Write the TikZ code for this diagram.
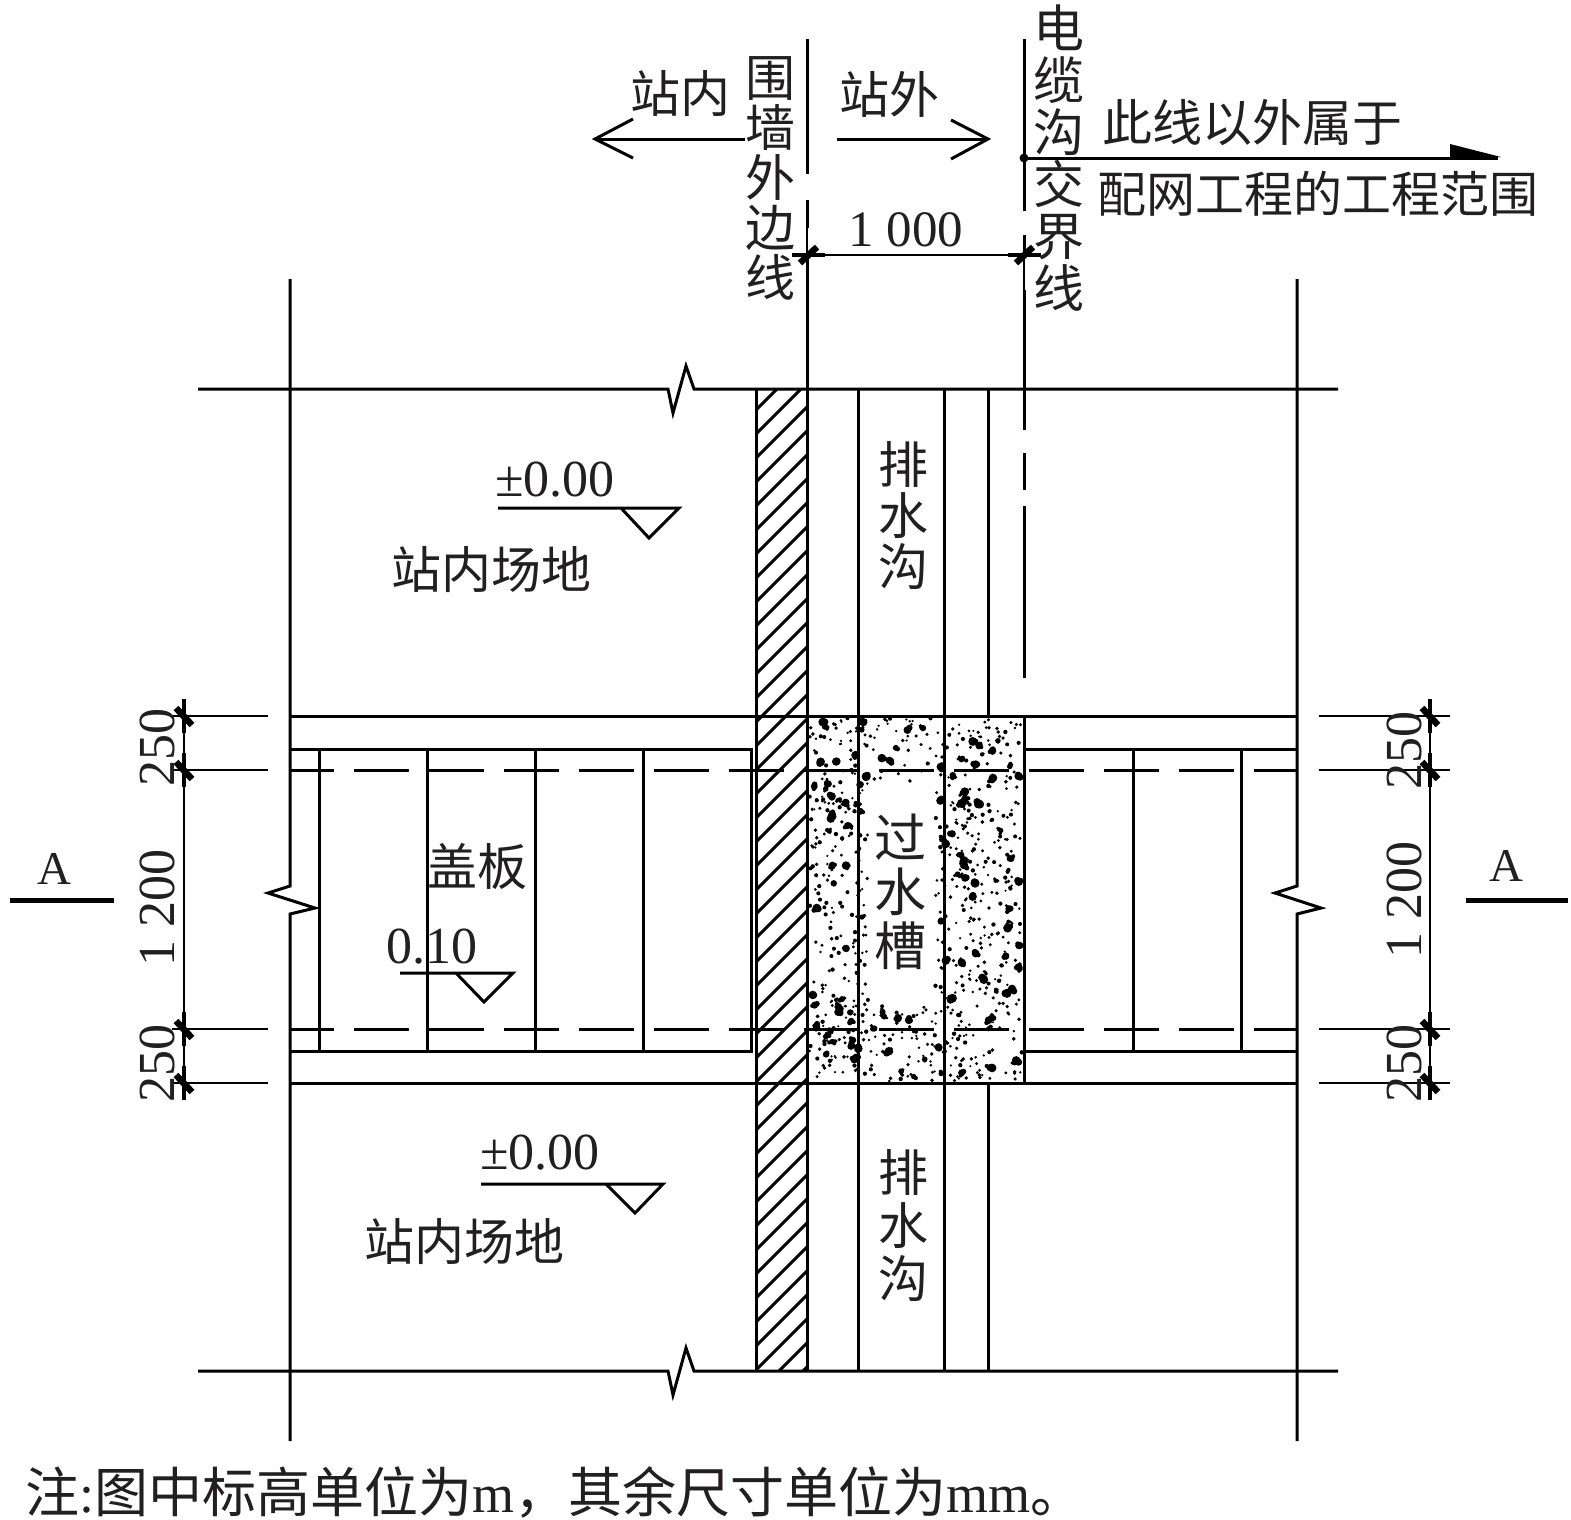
\documentclass[tikz,border=0pt]{standalone}
\usepackage{fontspec}
\setmainfont{Liberation Serif}
\newfontfamily\cjk{Noto Sans CJK SC}
\definecolor{ink}{HTML}{231F20}
\newcommand{\fs}[2]{\fontsize{#1}{#2}\selectfont}
\tikzset{
  heavy/.style={line width=3pt,black},
  thin line/.style={line width=1.4pt,black},
  dimtick/.style={line width=6.5pt,black},
  dimbar/.style={line width=3.2pt,black},
  lbl/.style={inner sep=0pt,text=ink,font=\fs{52}{52}},
  cjklbl/.style={inner sep=0pt,text=ink,font=\cjk\fs{50}{50}},
  vlbl/.style={inner sep=0pt,text=ink,align=center,font=\cjk\fs{50}{50}},
  dashrow/.style={heavy,dash pattern=on 55pt off 20pt,dash phase=11pt},
}
\begin{document}
\begin{tikzpicture}[x=1pt,y=-1pt,line cap=butt,line join=miter]
\useasboundingbox (0,0) rectangle (1571,1519);
\fill[white] (0,0) rectangle (1571,1519);
% hatching
\begin{scope}
\clip (756,389) rectangle (807,1371);
\foreach \k in {0,...,43}{
  \draw[line width=3pt] (756,386+24*\k) -- (807,335+24*\k);
}
\end{scope}
% stipple
\pgfmathsetseed{4711}
\foreach \i in {1,...,900}{
  \pgfmathsetmacro\dx{809+rnd*213}
  \pgfmathsetmacro\dy{718+rnd*363}
  \pgfmathsetmacro\skipit{(\dx>868 && \dx<935 && \dy>782 && \dy<1005)?1:0}
  \pgfmathsetmacro\rr{1.2+rnd*1.0}
  \ifdim\skipit pt<0.5pt
    \fill (\dx,\dy) circle[radius=\rr];
  \fi
}
\foreach \i in {1,...,135}{
  \pgfmathsetmacro\dx{811+rnd*209}
  \pgfmathsetmacro\dy{722+rnd*356}
  \pgfmathsetmacro\skipit{(\dx>862 && \dx<938 && \dy>782 && \dy<1005)?1:0}
  \pgfmathsetmacro\rr{2.6+rnd*2.0}
  \pgfmathsetmacro\ox{\dx+2.5-rnd*5}
  \pgfmathsetmacro\oy{\dy+2.5-rnd*5}
  \pgfmathsetmacro\ux{\dx+3-rnd*6}
  \pgfmathsetmacro\uy{\dy+3-rnd*6}
  \ifdim\skipit pt<0.5pt
    \fill (\dx,\dy) circle[radius=\rr];
    \fill (\ox,\oy) circle[radius=\rr*0.8];
    \fill (\ux,\uy) circle[radius=\rr*0.6];
  \fi
}
% frame verticals with breaks
\draw[heavy] (290,279) -- (290,886) -- (268,893) -- (315,908) -- (290,914) -- (290,1441);
\draw[heavy] (1297,279) -- (1297,886) -- (1275,893) -- (1321,908) -- (1297,914) -- (1297,1441);
% top/bottom horizontals with breaks
\draw[heavy] (198,389) -- (668,389) -- (673,413) -- (686,366) -- (694,389) -- (1338,389);
\draw[heavy] (198,1371) -- (668,1371) -- (673,1395) -- (686,1348) -- (694,1371) -- (1338,1371);
% wall and ditch
\draw[heavy] (756,389) -- (756,1371);
\draw[heavy] (807,39) -- (807,174) (807,200) -- (807,228);
\draw[thin line] (807,228) -- (807,255);
\draw[heavy] (807,255) -- (807,1371);
\draw[heavy] (858,389) -- (858,1371);
\draw[heavy] (944,389) -- (944,1371);
\draw[heavy] (988,389) -- (988,716) (988,1083) -- (988,1371);
\draw[heavy] (1024,39) -- (1024,211) (1024,235) -- (1024,255);
\draw[thin line] (1024,255) -- (1024,290);
\draw[heavy] (1024,290) -- (1024,430) (1024,453) -- (1024,490) (1024,506) -- (1024,678);
\draw[heavy] (1024,716) -- (1024,1083);
% slab horizontals
\draw[heavy] (290,716) -- (1297,716);
\draw[heavy] (290,1083) -- (1297,1083);
\draw[heavy] (290,749) -- (751,749) -- (751,1051) -- (290,1051);
\draw[heavy] (1024,749) -- (1297,749) (1024,1051) -- (1297,1051);
\foreach \x in {319,427,535,643,1133,1241}{
  \draw[heavy] (\x,749) -- (\x,1051);
}
\draw[dashrow] (290,770) -- (1297,770);
\draw[dashrow] (290,1029) -- (1297,1029);
% top dimension
\draw[thin line] (825,255) -- (1008,255);
\draw[dimbar] (792,255) -- (825,255) (1008,255) -- (1041,255);
\draw[dimtick] (800,263) -- (817,247);
\draw[dimtick] (1016,263) -- (1033,247);
% side dimensions
\draw[thin line] (184,716) -- (184,1083);
\foreach \y in {716,770,1029,1083}{
  \draw[thin line] (172,\y) -- (268,\y);
  \draw[dimbar] (184,\y-17) -- (184,\y+17);
  \draw[dimtick] (176,\y-8) -- (192,\y+9);
  \draw[thin line] (1319,\y) -- (1450,\y);
  \draw[dimbar] (1430,\y-17) -- (1430,\y+17);
  \draw[dimtick] (1422,\y-8) -- (1438,\y+9);
}
\draw[thin line] (1430,716) -- (1430,1083);
% level marks
\draw[heavy] (498,508) -- (679,508) -- (649,538) -- (621,508);
\draw[heavy] (481,1184) -- (663,1184) -- (635,1213) -- (606,1184);
\draw[heavy] (400,973) -- (513,973) -- (484,1002) -- (456,973);
% section marks
\draw[line width=5pt] (10,900) -- (114,900);
\draw[line width=5pt] (1466,900) -- (1568,900);
% station arrows
\draw[heavy] (745,139) -- (595,139);
\draw[heavy] (633,119) -- (595,139) -- (633,158);
\draw[heavy] (837,139) -- (988,139);
\draw[heavy] (951,120) -- (988,139) -- (951,159);
% boundary arrow
\fill (1024,158) circle[radius=4.5];
\draw[heavy] (1024,158) -- (1498,158);
\fill (1450,144) -- (1501,157) -- (1450,159.5) -- cycle;
% texts
\node[cjklbl] (zn) at (680,94) {站内};
\node[cjklbl] (zw) at (889,94) {站外};
\node[vlbl] (wq) at (770,178) {围\\墙\\外\\边\\线};
\node[vlbl,font=\cjk\fs{51}{52}] (dl) at (1059,158) {电\\缆\\沟\\交\\界\\线};
\node[cjklbl] (cx) at (1252,123) {此线以外属于};
\node[cjklbl,font=\cjk\fs{49}{49}] (pw) at (1318,194) {配网工程的工程范围};
\node[lbl,font=\fs{51}{51}] (dim1000) at (906,230) {1 000};
\node[vlbl,font=\cjk\fs{50}{51}] (ps1) at (903,516) {排\\水\\沟};
\node[vlbl,font=\cjk\fs{50}{53}] (ps2) at (903,1226) {排\\水\\沟};
\node[vlbl,font=\cjk\fs{52}{54}] (gs) at (900,892) {过\\水\\槽};
\node[cjklbl] (zc1) at (491,570) {站内场地};
\node[cjklbl] (zc2) at (464,1242) {站内场地};
\node[cjklbl] (gb) at (477,866) {盖板};
\node[lbl] (e1) at (555,480) {±0.00};
\node[lbl] (e2) at (540,1153) {±0.00};
\node[lbl] (e3) at (432,947) {0.10};
\node[lbl,font=\fs{47}{47}] (a1) at (54,869) {A};
\node[lbl,font=\fs{47}{47}] (a2) at (1506,866) {A};
\node[lbl,rotate=90] (l1) at (157,747) {250};
\node[lbl,rotate=90] (l2) at (157,908) {1 200};
\node[lbl,rotate=90] (l3) at (157,1063) {250};
\node[lbl,rotate=90] (r1) at (1404,750) {250};
\node[lbl,rotate=90] (r2) at (1404,900) {1 200};
\node[lbl,rotate=90] (r3) at (1404,1063) {250};
\node[lbl,anchor=west,font=\fs{54}{54}] (note) at (25,1492) {{\cjk 注}:{\cjk 图中标高单位为}m{\cjk\symbol{"FF0C}其余尺寸单位为}mm{\cjk\symbol{"3002}}};
\end{tikzpicture}
\end{document}
